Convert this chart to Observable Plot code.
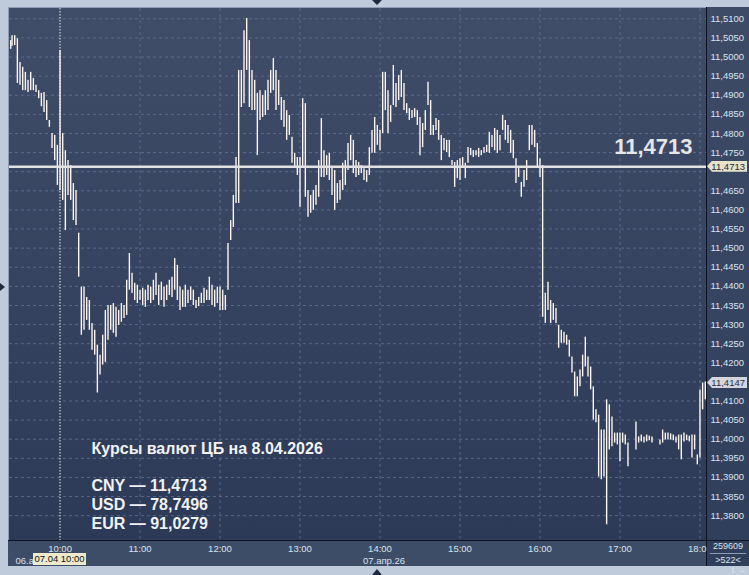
<!DOCTYPE html>
<html><head><meta charset="utf-8">
<script src="https://cdn.jsdelivr.net/npm/d3@7"></script>
<script src="https://cdn.jsdelivr.net/npm/@observablehq/plot@0.6"></script>
<style>
html,body{margin:0;padding:0;background:#bfcbda;}
#wrap{position:relative;width:749px;height:575px;overflow:hidden;background:#bfcbda;font-family:"Liberation Sans",Arial,sans-serif;}
#plotbg{position:absolute;left:8px;top:7px;width:698px;height:533px;background:linear-gradient(#3f4d69,#2c3a57);border-left:1px solid #8e9db5;border-top:1px solid #8e9db5;box-sizing:border-box;}
#bottompanel{position:absolute;left:8px;top:540px;width:699px;height:26px;background:#3d4c67;border-top:1px solid #0d1220;box-sizing:border-box;}
#rightpanel{position:absolute;left:706px;top:7px;width:43px;height:559px;background:linear-gradient(#3d4b67,#2f3e5b);border-left:1px solid #0d1220;box-sizing:border-box;}
#rpline{position:absolute;left:706px;top:540px;width:43px;height:1px;background:#0d1220;}
#rpsep{position:absolute;left:710px;top:553px;width:36px;height:1px;background:#8e9bb3;}
.rptext{position:absolute;left:707px;width:42px;text-align:center;font-size:9px;color:#dce3ee;line-height:9px;height:9px;}
#svgwrap{position:absolute;left:0;top:0;}
.tag{position:absolute;left:707px;width:40px;height:11px;font-size:9.5px;line-height:11px;text-align:right;padding-right:2px;box-sizing:border-box;clip-path:polygon(0 50%,5px 0,100% 0,100% 100%,5px 100%);}
#datebox{position:absolute;top:553px;height:12px;width:53px;background:#eeeacb;color:#111;font-size:9.5px;line-height:12px;text-align:center;}
.tri{position:absolute;width:0;height:0;}
</style></head>
<body>
<div id="wrap">
  <div id="plotbg"></div>
  <div id="bottompanel"></div>
  <div id="rightpanel"></div>
  <div id="rpline"></div>
  <div id="rpsep"></div>
  <div class="rptext" id="vol" style="top:542px"></div>
  <div class="rptext" id="cnt" style="top:556px"></div>
  <div class="tri" style="left:372px;top:0;border-left:5px solid transparent;border-right:5px solid transparent;border-top:5px solid #1f2a40;"></div>
  <div class="tri" style="left:372px;top:569px;border-left:5px solid transparent;border-right:5px solid transparent;border-bottom:6px solid #1f2a40;"></div>
  <div class="tri" style="left:0;top:283px;border-top:4px solid transparent;border-bottom:4px solid transparent;border-left:5px solid #1f2a40;"></div>
  <div id="svgwrap"></div>
</div>
<script>
// ---- data ----
const times = [-37,-36,-34,-32,-30,-28,-26,-24,-22,-20,-18,-16,-14,-12,-10,-8,-6,-4,-2,
0,2,4,6,8,10,12,14,16,18,20,22,24,26,28,30,32,34,36,38,40,42,44,46,48,50,52,54,56,58,
60,62,64,66,68,70,72,74,76,78,80,82,84,86,88,90,92,94,96,98,100,102,104,106,108,110,112,114,116,118,
120,122,124,126,128,130,132,134,136,138,140,142,144,146,148,150,152,154,156,158,160,162,164,166,168,170,172,174,176,178,
180,182,184,186,188,190,192,194,196,198,200,202,204,206,208,210,212,214,216,218,220,222,224,226,228,230,232,234,236,238,
240,242,244,246,248,250,252,254,256,258,260,262,264,266,268,270,272,274,276,278,280,282,284,286,288,290,292,294,296,298,
300,302,304,306,308,310,312,314,316,318,320,322,324,326,328,330,332,334,336,338,340,342,344,346,348,350,352,354,356,358,
360,362,364,366,368,370,372,374,376,378,380,382,384,386,388,390,392,394,396,398,400,402,404,406,408,410,412,414,416,418,
420,422,424,426,432,434,436,438,440,442,444,450,452,454,456,458,460,462,464,466,468,470,472,474,476,478,480,482,484];
const highs = [11.5043,11.5056,11.5056,11.5048,11.4986,11.4973,11.4960,11.4939,11.4960,11.4944,11.4926,11.4912,11.4905,11.4907,11.4886,11.4834,11.4800,11.4795,11.4769,
11.5017,11.4800,11.4755,11.4729,11.4716,11.4669,11.4651,11.4539,11.4398,11.4398,11.4371,11.4363,11.4303,11.4285,11.4246,11.4220,11.4272,11.4337,11.4350,11.4350,11.4355,11.4345,11.4337,11.4355,11.4350,11.4416,11.4486,11.4434,11.4408,11.4403,
11.4390,11.4395,11.4390,11.4403,11.4398,11.4416,11.4434,11.4403,11.4411,11.4398,11.4403,11.4416,11.4424,11.4473,11.4455,11.4398,11.4390,11.4403,11.4390,11.4398,11.4390,11.4363,11.4371,11.4382,11.4395,11.4390,11.4424,11.4403,11.4390,11.4398,
11.4398,11.4390,11.4376,11.4512,11.4572,11.4638,11.4737,11.4965,11.4965,11.5069,11.5101,11.5043,11.4965,11.4939,11.4905,11.4912,11.4899,11.4912,11.4939,11.4965,11.4996,11.4965,11.4939,11.4894,11.4886,11.4860,11.4847,11.4790,11.4748,11.4737,
11.4737,11.4891,11.4878,11.4651,11.4638,11.4651,11.4664,11.4729,11.4839,11.4755,11.4742,11.4748,11.4711,11.4703,11.4669,11.4677,11.4722,11.4729,11.4774,11.4795,11.4782,11.4729,11.4724,11.4716,11.4708,11.4703,11.4763,11.4808,11.4842,11.4821,
11.4808,11.4960,11.4960,11.4912,11.4873,11.4978,11.4931,11.4952,11.4965,11.4931,11.4878,11.4865,11.4860,11.4865,11.4860,11.4842,11.4826,11.4860,11.4934,11.4886,11.4821,11.4839,11.4834,11.4795,11.4787,11.4782,11.4782,11.4729,11.4724,11.4729,
11.4734,11.4737,11.4722,11.4763,11.4761,11.4755,11.4755,11.4761,11.4755,11.4763,11.4769,11.4803,11.4795,11.4813,11.4808,11.4795,11.4847,11.4834,11.4821,11.4808,11.4782,11.4734,11.4708,11.4672,11.4703,11.4729,11.4821,11.4821,11.4808,11.4774,
11.4734,11.4716,11.4382,11.4411,11.4363,11.4355,11.4342,11.4298,11.4285,11.4280,11.4272,11.4259,11.4215,11.4176,11.4163,11.4181,11.4220,11.4267,11.4215,11.4189,11.4137,11.4077,11.4063,11.4024,11.4024,11.4103,11.4090,11.4058,11.4016,11.4016,
11.4016,11.4016,11.4011,11.3990,11.4045,11.4006,11.4011,11.4006,11.4011,11.4008,11.4006,11.3998,11.4024,11.4016,11.4016,11.4014,11.4011,11.4006,11.4011,11.4011,11.4016,11.4011,11.4008,11.4011,11.4011,11.3959,11.4129,11.4147,11.4150];
const lows = [11.5020,11.5028,11.5030,11.4931,11.4926,11.4912,11.4912,11.4907,11.4912,11.4912,11.4907,11.4891,11.4870,11.4855,11.4834,11.4816,11.4761,11.4729,11.4664,
11.4651,11.4625,11.4546,11.4638,11.4625,11.4572,11.4559,11.4424,11.4272,11.4285,11.4311,11.4285,11.4233,11.4220,11.4121,11.4168,11.4194,11.4201,11.4259,11.4285,11.4277,11.4267,11.4298,11.4306,11.4316,11.4324,11.4390,11.4381,11.4363,11.4355,
11.4363,11.4350,11.4345,11.4363,11.4355,11.4363,11.4376,11.4350,11.4363,11.4345,11.4363,11.4376,11.4371,11.4390,11.4363,11.4337,11.4345,11.4345,11.4355,11.4363,11.4350,11.4342,11.4347,11.4355,11.4355,11.4363,11.4363,11.4350,11.4345,11.4355,
11.4337,11.4337,11.4337,11.4390,11.4520,11.4554,11.4617,11.4617,11.4868,11.4878,11.4965,11.4868,11.4860,11.4860,11.4742,11.4834,11.4842,11.4847,11.4860,11.4905,11.4912,11.4860,11.4873,11.4834,11.4816,11.4782,11.4795,11.4722,11.4711,11.4690,
11.4607,11.4711,11.4633,11.4581,11.4591,11.4599,11.4612,11.4633,11.4685,11.4685,11.4690,11.4677,11.4638,11.4599,11.4617,11.4625,11.4651,11.4664,11.4703,11.4729,11.4695,11.4685,11.4690,11.4695,11.4677,11.4672,11.4690,11.4748,11.4748,11.4769,
11.4755,11.4800,11.4860,11.4800,11.4829,11.4873,11.4868,11.4886,11.4894,11.4860,11.4852,11.4834,11.4839,11.4842,11.4821,11.4742,11.4763,11.4808,11.4873,11.4795,11.4795,11.4808,11.4782,11.4729,11.4755,11.4750,11.4737,11.4716,11.4659,11.4682,
11.4677,11.4711,11.4682,11.4722,11.4742,11.4737,11.4742,11.4737,11.4742,11.4748,11.4750,11.4748,11.4763,11.4755,11.4748,11.4755,11.4808,11.4782,11.4774,11.4748,11.4734,11.4669,11.4685,11.4633,11.4659,11.4677,11.4755,11.4769,11.4763,11.4711,
11.4685,11.4319,11.4303,11.4337,11.4303,11.4311,11.4303,11.4238,11.4251,11.4251,11.4246,11.4215,11.4173,11.4111,11.4111,11.4137,11.4163,11.4189,11.4163,11.4129,11.4050,11.4043,11.3901,11.3894,11.3901,11.3776,11.3972,11.3980,11.3990,11.3985,
11.3941,11.3990,11.3985,11.3928,11.3972,11.3990,11.3993,11.3990,11.3993,11.3996,11.3990,11.3985,11.3990,11.3998,11.3998,11.3998,11.3996,11.3990,11.3972,11.3946,11.3993,11.3996,11.3993,11.3951,11.3972,11.3933,11.3951,11.4077,11.4103];

const yTicks = [11.38,11.385,11.39,11.395,11.40,11.405,11.41,11.415,11.42,11.425,11.43,11.435,11.44,11.445,11.45,11.455,11.46,11.465,11.47,11.475,11.48,11.485,11.49,11.495,11.50,11.505,11.51];
const hourTicks = [0,60,120,180,240,300,360,420,480];
const hourLabels = ["10:00","11:00","12:00","13:00","14:00","15:00","16:00","17:00","18:00"];
const cbRate = 11.4713;
const lastPrice = 11.4147;
const infoTitle = "Курсы валют ЦБ на 8.04.2026";
const currencies = ["CNY","USD","EUR"];
const rates = ["11,4713","78,7496","91,0279"];
const volume = "259609";
const barCount = ">522<";
const dayLabel = "07.апр.26";
const prevDayLabel = "06.а";   // only this part is visible beside the session box
const sessionLabel = "07.04 10:00";

// ---- build ----
const bars = times.map((t,i)=>({t, hi: highs[i], lo: lows[i]}));
const fmt = d => d3.format(".4f")(d).replace(".", ",");
const infoText = infoTitle + "\n\n" + currencies.map((c,i)=>c + " — " + rates[i]).join("\n");
const light = "#dce3ee";
// axis labels hidden under the price tags (as in the terminal)
const labelTicks = yTicks.filter(v => Math.abs(v - cbRate) > 0.0015 && Math.abs(v - lastPrice) > 0.0015);

const chart = Plot.plot({
  width: 749, height: 575,
  marginLeft: 9, marginRight: 43, marginTop: 8, marginBottom: 35,
  style: {background: "transparent", color: light, fontFamily: "'Liberation Sans', Arial, sans-serif", fontSize: "9.5px", overflow: "visible"},
  x: {domain: [-37.9, 484.9]},
  y: {domain: [11.3735, 11.5127]},
  marks: [
    Plot.gridY(yTicks, {stroke: "#66769a", strokeOpacity: 0.75, strokeDasharray: "3,3"}),
    Plot.gridX(hourTicks.slice(1), {stroke: "#66769a", strokeOpacity: 0.75, strokeDasharray: "3,3"}),
    Plot.ruleX([0], {stroke: "#ffffff", strokeOpacity: 0.9, strokeDasharray: "1.5,1.5"}),
    Plot.ruleX(bars, {x: "t", y1: "lo", y2: "hi", stroke: "#fff6f0", strokeWidth: 1.4}),
    Plot.ruleY([cbRate], {stroke: "#e2e2e2", strokeWidth: 2.5}),
    Plot.text([cbRate], {y: d => d, text: fmt, frameAnchor: "right", textAnchor: "end", lineAnchor: "bottom", dx: -14, dy: -12.7, fontSize: 22, fontWeight: "bold", fill: "#e6e6e6"}),
    Plot.text([infoText], {frameAnchor: "top-left", textAnchor: "start", lineAnchor: "top", dx: 82, dy: 432.7, fontSize: 16, fontWeight: "bold", fill: "#f2f2f2", lineHeight: 1.16}),
    Plot.axisY(labelTicks, {anchor: "right", tickSize: 0, tickPadding: 4, tickFormat: fmt, fill: light}),
    Plot.axisX(hourTicks, {anchor: "bottom", tickSize: 0, tickPadding: 5, tickFormat: d => hourLabels[hourTicks.indexOf(d)], fill: light}),
    Plot.text([dayLabel], {x: 240, frameAnchor: "bottom", dx: 4, dy: 20, lineAnchor: "middle", fill: light}),
    Plot.text([prevDayLabel], {frameAnchor: "bottom-left", textAnchor: "start", dx: 6, dy: 20, lineAnchor: "middle", fill: light})
  ]
});

// clip x labels at the right panel edge
const sel = d3.select(chart);
sel.insert("defs", ":first-child").append("clipPath").attr("id", "clipx")
  .append("rect").attr("x", -1000).attr("y", -1000).attr("width", 1706).attr("height", 3000);
sel.selectAll('g[aria-label="x-axis tick label"]').attr("clip-path", "url(#clipx)");

document.getElementById("svgwrap").appendChild(chart);

// overlays positioned with the chart's scales
const wrap = document.getElementById("wrap");
const ys = chart.scale("y"), xs = chart.scale("x");
function tag(value, bg, color) {
  const d = document.createElement("div");
  d.className = "tag";
  d.style.top = (ys.apply(value) - 5.5) + "px";
  d.style.background = bg; d.style.color = color;
  d.textContent = fmt(value);
  wrap.appendChild(d);
}
tag(cbRate, "#e6e3cb", "#1c2740");
tag(lastPrice, "#d3d6dc", "#2a3244");
const db = document.createElement("div");
db.id = "datebox";
db.style.left = (xs.apply(0) - 26.5) + "px";
db.textContent = sessionLabel;
wrap.appendChild(db);
document.getElementById("vol").textContent = volume;
document.getElementById("cnt").textContent = barCount;
</script>
</body></html>
